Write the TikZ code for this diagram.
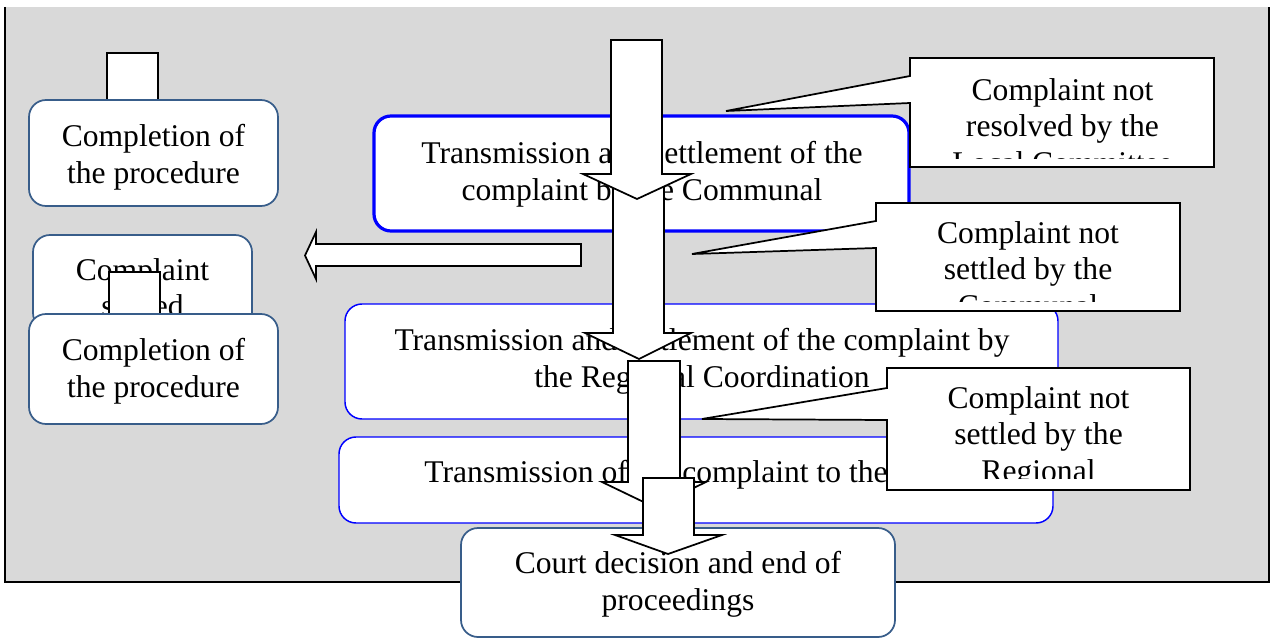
\documentclass[tikz,border=0pt]{standalone}
\usepackage{fontspec}
\setmainfont{Liberation Serif}
\usetikzlibrary{fit}
\definecolor{bgGray}{HTML}{D9D9D9}
\definecolor{navyB}{HTML}{385D8A}
\newcommand\fsz{\fontsize{23.7}{27.4}\selectfont}
\newcommand\lstrut{\rule[-5.4pt]{0pt}{27.4pt}}
\begin{document}
\begin{tikzpicture}[x=0.75pt,y=-0.75pt,
  rbox/.style={draw=navyB, line width=1.3pt, rounded corners=12.75pt, fill=white, inner sep=0pt},
  bbox/.style={draw=blue, line width=1.1pt, rounded corners=12.75pt, fill=white, inner sep=0pt},
  txt/.style={font=\fsz, align=center, inner sep=0pt, anchor=north},
  smallrect/.style={draw=black, line width=1.3pt, fill=white, inner sep=0pt},
  blockarrow/.style={draw=black, line width=1.3pt, fill=white, line join=miter},
  callout/.style={draw=black, line width=1.3pt, fill=white, line join=miter}]

\useasboundingbox (0,0) rectangle (1271,642);
% frame
\fill[bgGray] (5,7) rectangle (1269,582);
\draw[line width=1.6pt] (5,7) -- (5,582) -- (1269,582) -- (1269,7);

% left column
\node[smallrect, fit={(107,53) (158,100)}] (tabA) {};
\node[rbox, fit={(29,100) (278,206)}] (compA) {};
\node[txt] (compAt) at (153.5,117.2) {\lstrut Completion of\\\lstrut the procedure};

\node[rbox, fit={(33,235) (252,330)}] (settledB) {};
\node[txt] (settledBt) at (142.5,250.7) {\lstrut Complaint\\\lstrut settled};
\node[smallrect, fit={(109,272) (160,314)}] (tabB) {};

\node[rbox, fit={(29,314) (278,424)}] (compC) {};
\node[txt] (compCt) at (153.5,331.2) {\lstrut Completion of\\\lstrut the procedure};

% left block arrow
\draw[blockarrow] (581,244) -- (581,266) -- (316,266) -- (316,279) -- (305,255.5) -- (316,232) -- (316,244) -- cycle;

% box 1
\node[bbox, line width=2.4pt, fit={(374,116) (909,231)}] (commBox) {};
\node[txt] (commBoxt) at (642,134.2) {\lstrut Transmission and settlement of the\\\lstrut complaint by the Communal};

% callout 1
\draw[callout] (910,58) -- (1214,58) -- (1214,167) -- (910,167) -- (910,103) -- (726,111) coordinate (c1tip) -- (910,76) -- cycle;
\begin{scope}
\clip (910,58) rectangle (1214,158);
\node[txt] (call1t) at (1062.5,70.7) {\lstrut Complaint not\\\lstrut resolved by the\\\lstrut Local Committee};
\end{scope}

% box 2
\node[bbox, fit={(345,304) (1058,419)}] (regBox) {};
\node[txt] (regBoxt) at (702,321.2) {\lstrut Transmission and settlement of the complaint by\\\lstrut the Regional Coordination};

% callout 2
\draw[callout] (876,203) -- (1180,203) -- (1180,311) -- (876,311) -- (876,248) -- (692,254) coordinate (c2tip) -- (876,221) -- cycle;
\begin{scope}
\clip (876,203) rectangle (1180,301);
\node[txt] (call2t) at (1028,213.7) {\lstrut Complaint not\\\lstrut settled by the\\\lstrut Communal};
\end{scope}

% box 3
\node[bbox, fit={(339,437) (1053,523)}] (courtTr) {};
\node[txt] (courtTrt) at (696,453.2) {\lstrut Transmission of the complaint to the Court};

% callout 3
\draw[callout] (887,368) -- (1190,368) -- (1190,490) -- (887,490) -- (887,420) -- (702,419) coordinate (c3tip) -- (887,388) -- cycle;
\begin{scope}
\clip (887,368) rectangle (1190,478);
\node[txt] (call3t) at (1038.5,378.7) {\lstrut Complaint not\\\lstrut settled by the\\\lstrut Regional};
\end{scope}

% down arrows
\draw[blockarrow] (613,185) -- (664,185) -- (664,333) -- (691,333) -- (639,359) -- (585,333) -- (613,333) -- cycle;
\draw[blockarrow] (611,40) -- (662,40) -- (662,174) -- (691,174) -- (637,199) -- (583,174) -- (611,174) -- cycle;
\draw[blockarrow] (628,361) -- (680,361) -- (680,482) -- (706,482) -- (654,507) -- (602,482) -- (628,482) -- cycle;

% court box
\node[rbox, fit={(461,528) (895,637)}] (courtBox) {};
\node[txt] (courtBoxt) at (678,544.2) {\lstrut Court decision and end of\\\lstrut proceedings};

\draw[blockarrow] (643,478) -- (694,478) -- (694,535) -- (722,535) -- (668,554) -- (615,535) -- (643,535) -- cycle;
\end{tikzpicture}
\end{document}
